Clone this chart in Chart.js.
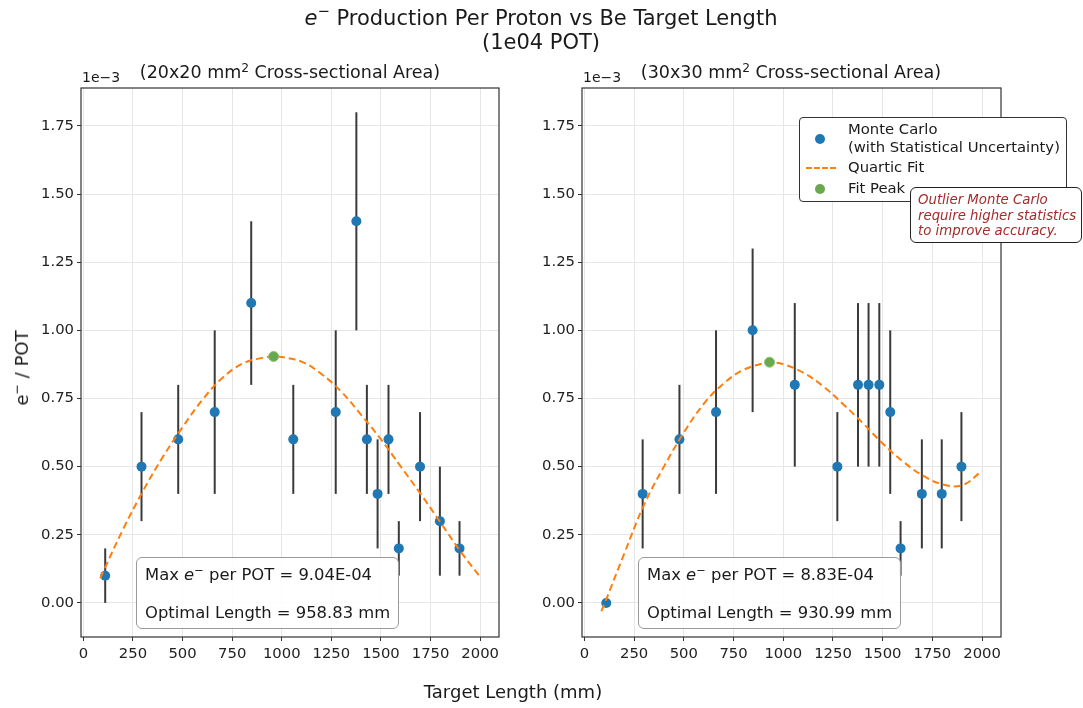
<!DOCTYPE html>
<html>
<head>
<meta charset="utf-8">
<script src="https://cdn.jsdelivr.net/npm/chart.js@4.4.0/dist/chart.umd.min.js"></script>
<style>
  body { margin: 0; background: #fff; font-family: "DejaVu Sans", sans-serif; color: #1a1a1a; }
  #fig { position: relative; width: 1083px; height: 708px; overflow: hidden; }
  canvas { position: absolute; top: 0; }
  .txt { position: absolute; white-space: nowrap; line-height: 1; }
  .c { transform: translate(-50%, -50%); }
  sup { font-size: 70%; vertical-align: 0.55em; line-height: 0; }
  .title { font-size: 21px; }
  .sub { font-size: 17.5px; }
  .offset { font-size: 14px; }
  .axlab { font-size: 18px; }
  .legend { position: absolute; left: 799px; top: 117px; width: 268px; height: 85px; box-sizing: border-box;
            border: 1.2px solid #333; border-radius: 4px; background: #fff; font-size: 14.8px; }
  .legend .item { position: absolute; left: 48px; white-space: nowrap; line-height: 1; }
  .legend .dot { position: absolute; left: 15px; width: 10px; height: 10px; border-radius: 50%; }
  .legend .dash { position: absolute; left: 6px; width: 30px; height: 0; border-top: 2px dashed #ff7f0e; }
  .note { position: absolute; left: 910px; top: 187px; width: 172px; height: 56px; box-sizing: border-box;
          border: 1.2px solid #222; border-radius: 6px; background: #fff; color: #a52a2a;
          font-style: italic; font-size: 13.3px; line-height: 15.5px; padding: 4px 0 0 7px; white-space: nowrap; }
  .peakbox { position: absolute; top: 557px; width: 263px; height: 72px; box-sizing: border-box;
             border: 1.3px solid #9a9a9a; border-radius: 6px; background: rgba(255,255,255,0.85); font-size: 16.4px; }
  .peakbox div { position: absolute; left: 8px; white-space: nowrap; line-height: 1; }
</style>
</head>
<body>
<div id="fig">
  <canvas id="left" width="520" height="708" style="left:0"></canvas>
  <canvas id="right" width="563" height="708" style="left:520px"></canvas>

  <div class="txt c title" style="left:541px; top:18px"><i>e</i><sup>−</sup> Production Per Proton vs Be Target Length</div>
  <div class="txt c title" style="left:541px; top:42px">(1e04 POT)</div>

  <div class="txt c sub" style="left:290px; top:73px">(20x20 mm<sup>2</sup> Cross-sectional Area)</div>
  <div class="txt c sub" style="left:791px; top:73px">(30x30 mm<sup>2</sup> Cross-sectional Area)</div>
  <div class="txt offset" style="left:82px; top:70px">1e−3</div>
  <div class="txt offset" style="left:583px; top:70px">1e−3</div>

  <div class="txt c axlab" style="left:22px; top:368px; transform: translate(-50%,-50%) rotate(-90deg)">e<sup>−</sup> / POT</div>
  <div class="txt c axlab" style="left:513px; top:692px">Target Length (mm)</div>

  <div class="peakbox" id="box20" style="left:136px"></div>
  <div class="peakbox" id="box30" style="left:638px"></div>

  <div class="legend" id="legend"></div>
  <div class="note">Outlier Monte Carlo<br>require higher statistics<br>to improve accuracy.</div>
</div>

<script>
// target lengths (mm), shared by both cross sections
const lengths = [110, 293, 478, 662, 846, 1058, 1272, 1376, 1429, 1483, 1538, 1590, 1697, 1797, 1896];

// e- per POT (x1e-3) and statistical uncertainty, 20x20 mm2
const yield20 = [0.1, 0.5, 0.6, 0.7, 1.1, 0.6, 0.7, 1.4, 0.6, 0.4, 0.6, 0.2, 0.5, 0.3, 0.2];
const err20   = [0.1, 0.2, 0.2, 0.3, 0.3, 0.2, 0.3, 0.4, 0.2, 0.2, 0.2, 0.1, 0.2, 0.2, 0.1];

// e- per POT (x1e-3) and statistical uncertainty, 30x30 mm2
const yield30 = [0.0, 0.4, 0.6, 0.7, 1.0, 0.8, 0.5, 0.8, 0.8, 0.8, 0.7, 0.2, 0.4, 0.4, 0.5];
const err30   = [0.0, 0.2, 0.2, 0.3, 0.3, 0.3, 0.2, 0.3, 0.3, 0.3, 0.3, 0.1, 0.2, 0.2, 0.2];

// quartic fit curves, sampled along target length
const fitX20 = [85, 100, 200, 300, 400, 500, 600, 700, 800, 900, 958.83, 1000, 1100, 1200, 1300, 1400, 1500, 1600, 1700, 1800, 1900, 2000];
const fitY20 = [0.09, 0.115, 0.27, 0.41, 0.535, 0.645, 0.745, 0.825, 0.877, 0.899, 0.904, 0.902, 0.885, 0.84, 0.775, 0.69, 0.60, 0.50, 0.40, 0.295, 0.19, 0.095];
const fitX30 = [85, 100, 200, 300, 400, 500, 600, 700, 800, 900, 930.99, 1000, 1100, 1200, 1300, 1400, 1500, 1600, 1700, 1800, 1900, 2000];
const fitY30 = [-0.03, -0.005, 0.18, 0.36, 0.50, 0.625, 0.73, 0.805, 0.855, 0.879, 0.883, 0.876, 0.845, 0.795, 0.73, 0.66, 0.585, 0.52, 0.468, 0.435, 0.432, 0.484];

// fit peaks
const peak20 = { x: 958.83, y: 0.904 };
const peak30 = { x: 930.99, y: 0.883 };

const xTicks = [0, 250, 500, 750, 1000, 1250, 1500, 1750, 2000];
const yTicks = [0, 0.25, 0.5, 0.75, 1.0, 1.25, 1.5, 1.75];

const pts = (xs, ys) => xs.map((x, i) => ({ x: x, y: ys[i] }));

// vertical error bars under the Monte Carlo points
const errorBars = {
  id: 'errorBars',
  beforeDatasetsDraw(chart, args, opts) {
    const ctx = chart.ctx, y = chart.scales.y, a = chart.chartArea;
    const meta = chart.getDatasetMeta(0);
    const data = chart.data.datasets[0].data;
    ctx.save();
    ctx.beginPath();
    ctx.rect(a.left, a.top, a.right - a.left, a.bottom - a.top);
    ctx.clip();
    ctx.strokeStyle = '#3a3a3a';
    ctx.lineWidth = 2;
    meta.data.forEach((el, i) => {
      const e = opts.errors[i];
      if (!e) return;
      ctx.beginPath();
      ctx.moveTo(el.x, y.getPixelForValue(data[i].y - e));
      ctx.lineTo(el.x, y.getPixelForValue(data[i].y + e));
      ctx.stroke();
    });
    ctx.restore();
  }
};

// full box around the axes
const frame = {
  id: 'frame',
  afterDraw(chart) {
    const ctx = chart.ctx, a = chart.chartArea;
    ctx.save();
    ctx.strokeStyle = '#333';
    ctx.lineWidth = 1.2;
    ctx.strokeRect(a.left, a.top, a.right - a.left, a.bottom - a.top);
    ctx.restore();
  }
};

function makePanel(id, ys, errs, fx, fy, peak, axisWidth, padRight) {
  return new Chart(document.getElementById(id), {
    type: 'scatter',
    data: {
      datasets: [
        { label: 'Monte Carlo\n(with Statistical Uncertainty)', data: pts(lengths, ys),
          backgroundColor: '#1f77b4', borderWidth: 0, pointRadius: 5, pointHoverRadius: 5, order: 3 },
        { label: 'Quartic Fit', type: 'line', data: pts(fx, fy), showLine: true,
          borderColor: '#ff7f0e', borderWidth: 2, borderDash: [7, 4], pointRadius: 0, tension: 0.4, fill: false, order: 2 },
        { label: 'Fit Peak', data: [peak], backgroundColor: '#6aa84f', borderColor: '#8cc472', borderWidth: 1,
          pointRadius: 5, order: 1 }
      ]
    },
    options: {
      responsive: false,
      animation: false,
      layout: { padding: { left: 0, right: padRight, top: 88, bottom: 0 } },
      plugins: { legend: { display: false }, tooltip: { enabled: false }, errorBars: { errors: errs } },
      scales: {
        x: {
          type: 'linear', min: -12, max: 2095,
          afterBuildTicks: ax => { ax.ticks = xTicks.map(v => ({ value: v })); },
          afterFit: ax => { ax.height = 71; },
          grid: { color: '#e6e6e6', tickColor: '#333', tickLength: 4 },
          border: { display: false },
          ticks: { color: '#222', font: { family: 'DejaVu Sans', size: 14.8 }, padding: 4, maxRotation: 0,
                   callback: v => String(v) }
        },
        y: {
          type: 'linear', min: -0.125, max: 1.889,
          afterBuildTicks: ax => { ax.ticks = yTicks.map(v => ({ value: v })); },
          afterFit: ax => { ax.width = axisWidth; },
          grid: { color: '#e6e6e6', tickColor: '#333', tickLength: 4 },
          border: { display: false },
          ticks: { color: '#222', font: { family: 'DejaVu Sans', size: 14.8 }, padding: 3,
                   callback: v => v.toFixed(2) }
        }
      }
    },
    plugins: [errorBars, frame]
  });
}

const chart20 = makePanel('left', yield20, err20, fitX20, fitY20, peak20, 81, 21);
const chart30 = makePanel('right', yield30, err30, fitX30, fitY30, peak30, 62, 82);

// peak summary boxes
function sci(v) {
  const [m, e] = (v * 1e-3).toExponential(2).split('e');
  const n = Math.abs(parseInt(e, 10));
  return m + 'E' + (e[0] === '-' ? '-' : '+') + String(n).padStart(2, '0');
}
function fillBox(id, peak) {
  document.getElementById(id).innerHTML =
    '<div style="top:9px">Max <i>e</i><sup>−</sup> per POT = ' + sci(peak.y) + '</div>' +
    '<div style="top:47px">Optimal Length = ' + peak.x.toFixed(2) + ' mm</div>';
}
fillBox('box20', peak20);
fillBox('box30', peak30);

// legend built from the right panel datasets
const legend = document.getElementById('legend');
const ds = chart30.data.datasets;
legend.innerHTML =
  '<span class="dot" style="top:16px; background:' + ds[0].backgroundColor + '"></span>' +
  '<div class="item" style="top:2px; line-height:18px">' + ds[0].label.replace('\n', '<br>') + '</div>' +
  '<span class="dash" style="top:49px"></span>' +
  '<div class="item" style="top:42px">' + ds[1].label + '</div>' +
  '<span class="dot" style="top:66px; background:' + ds[2].backgroundColor + '"></span>' +
  '<div class="item" style="top:63px">' + ds[2].label + '</div>';
</script>
</body>
</html>
